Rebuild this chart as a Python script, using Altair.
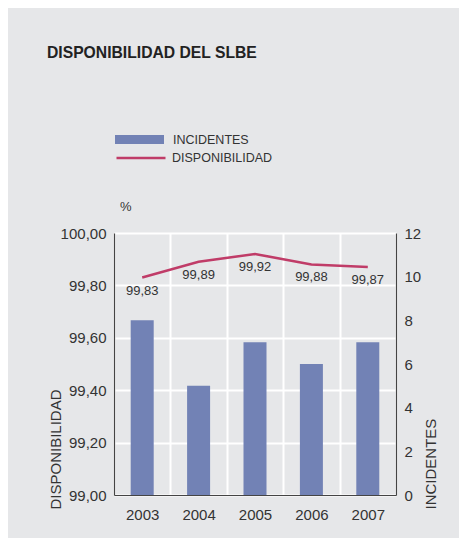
import altair as alt
import pandas as pd

years = ["2003", "2004", "2005", "2006", "2007"]
incidentes = [8, 5, 7, 6, 7]
disponibilidad = [99.83, 99.89, 99.92, 99.88, 99.87]
disp_labels = ["99,83", "99,89", "99,92", "99,88", "99,87"]
left_ticks = [99.0, 99.2, 99.4, 99.6, 99.8, 100.0]
right_ticks = [0, 2, 4, 6, 8, 10, 12]

BG = "#e6e7e9"
BAR = "#7282b5"
LINE = "#c03c68"
TXT = "#333333"
AXC = "#444444"
FONT = "Liberation Sans"

df = pd.DataFrame({
    "year": years,
    "inc": incidentes,
    "disp": disponibilidad,
    "lab": disp_labels,
})

xenc = alt.X(
    "year:N",
    scale=alt.Scale(paddingInner=0, paddingOuter=0),
    axis=alt.Axis(
        title=None, labelAngle=0, labelFontSize=15, labelColor=TXT,
        labelPadding=12, ticks=False, grid=True, tickBand="extent",
        gridColor="white", gridWidth=2, domainColor=AXC, domainWidth=1.2,
        labelFont=FONT,
    ),
)

bars = alt.Chart(df).mark_bar(size=23).encode(
    x=xenc,
    y=alt.Y(
        "inc:Q",
        scale=alt.Scale(domain=[0, 12], nice=False),
        axis=alt.Axis(
            orient="right", values=right_ticks, title="INCIDENTES",
            grid=False, ticks=False, labelFontSize=15, labelColor=TXT,
            labelPadding=8, domainColor=AXC, domainWidth=1.2,
            titleFontSize=15, titleFontWeight="normal", titleColor=TXT,
            titleAngle=270, titleAlign="left", titleBaseline="middle",
            titleX=34, titleY=276, labelFont=FONT, titleFont=FONT,
        ),
    ),
    fill=alt.Fill(
        "s:N",
        scale=alt.Scale(domain=["INCIDENTES"], range=[BAR]),
        legend=alt.Legend(
            title=None, orient="none", legendX=1, legendY=-118,
            symbolType="M-1,-0.184L1,-0.184L1,0.184L-1,0.184Z",
            symbolSize=2401, symbolStrokeWidth=0, labelFontSize=12.5,
            labelColor=TXT, labelOffset=9, padding=0, labelFont=FONT,
        ),
    ),
).transform_calculate(s="'INCIDENTES'")

line = alt.Chart(df).mark_line(strokeWidth=2.5).encode(
    x="year:N",
    y=alt.Y(
        "disp:Q",
        scale=alt.Scale(domain=[99.0, 100.0], nice=False, zero=False),
        axis=alt.Axis(
            orient="left", values=left_ticks, title="DISPONIBILIDAD",
            grid=True, gridColor="white", gridWidth=2, ticks=False,
            labelFontSize=15, labelColor=TXT, labelPadding=8,
            labelExpr="replace(format(datum.value, '.2f'), '.', ',')",
            domainColor=AXC, domainWidth=1.2,
            titleFontSize=15, titleFontWeight="normal", titleColor=TXT,
            titleAngle=270, titleAlign="left", titleBaseline="middle",
            titleX=-59, titleY=276, labelFont=FONT, titleFont=FONT,
        ),
    ),
    stroke=alt.Stroke(
        "s:N",
        scale=alt.Scale(domain=["DISPONIBILIDAD"], range=[LINE]),
        legend=alt.Legend(
            title=None, orient="none", legendX=1, legendY=-101,
            symbolType="M-1,0L1,0", symbolSize=2401, symbolStrokeWidth=2.5,
            labelFontSize=12.5, labelColor=TXT, labelOffset=5, padding=0,
            labelFont=FONT,
        ),
    ),
).transform_calculate(s="'DISPONIBILIDAD'")

labels = alt.Chart(df).mark_text(
    dy=13, fontSize=13, color=TXT, baseline="middle", font=FONT
).encode(x="year:N", y="disp:Q", text="lab:N")

pct = alt.Chart(pd.DataFrame({"t": ["%"]})).mark_text(
    fontSize=13, color=TXT, align="left", baseline="middle", font=FONT
).encode(x=alt.value(6), y=alt.value(-26), text="t:N")

left_layer = alt.layer(line, labels, pct)

chart = alt.layer(bars, left_layer).resolve_scale(
    y="independent", fill="independent", stroke="independent"
).properties(
    width=282,
    height=262,
    title=alt.TitleParams(
        "DISPONIBILIDAD DEL SLBE", anchor="start", frame="group",
        fontSize=15.7, fontWeight="bold", color="#222222", font=FONT,
        dx=-67, offset=53,
    ),
    autosize=alt.AutoSizeParams(type="none"),
    padding={"left": 106, "top": 225, "right": 63, "bottom": 43},
    background=BG,
).configure_view(stroke=None)

chart.save("out.html", embed_options={"renderer": "svg", "actions": False})
